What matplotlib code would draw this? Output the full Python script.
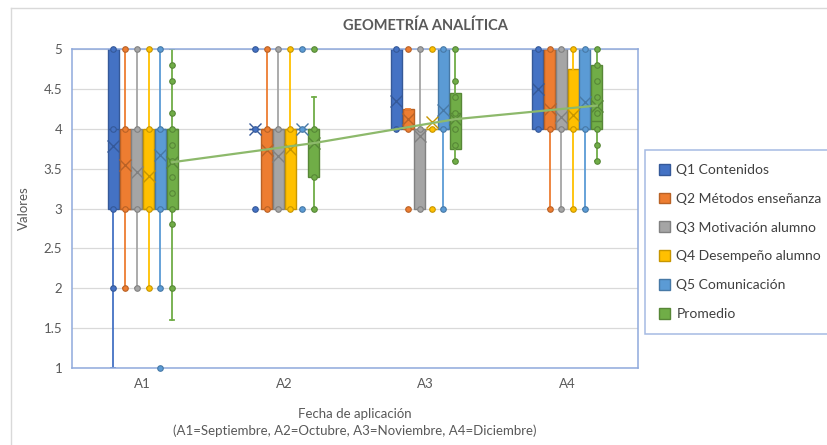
import matplotlib
matplotlib.use("Agg")
import matplotlib.pyplot as plt
import matplotlib.colors as mcolors
from matplotlib.patches import Patch
from matplotlib.lines import Line2D

plt.rcParams['font.family'] = ['Lato', 'DejaVu Sans']

groups = ["A1", "A2", "A3", "A4"]
series = ["Q1 Contenidos", "Q2 Métodos enseñanza", "Q3 Motivación alumno",
          "Q4 Desempeño alumno", "Q5 Comunicación", "Promedio"]
colors = ["#4472C4", "#ED7D31", "#A5A5A5", "#FFC000", "#5B9BD5", "#70AD47"]

# one row per series, one column per group (A1..A4)
q_low = [[3, 4, 4, 4], [3, 3, 4, 4], [3, 3, 3, 4],
         [3, 3, 4, 4], [3, 4, 4, 4], [3, 3.4, 3.75, 4]]
q_high = [[5, 4, 5, 5], [4, 4, 4.25, 5], [4, 4, 4, 5],
          [4, 4, 4, 4.75], [4, 4, 5, 5], [4, 4, 4.45, 4.8]]
medians = [[4, 4, 5, 5], [3, 4, 4, 5], [3, 4, 4, 4],
           [3, 4, 4, 4], [4, 4, 4, 4], [4, 4, 4.2, 4.1]]
whisk_lo = [[1, 4, 4, 4], [2, 3, 4, 3], [2, 3, 3, 3],
            [2, 3, 4, 3], [2, 4, 3, 3], [1.6, 3, 3.6, 3.6]]
whisk_hi = [[5, 4, 5, 5], [5, 5, 4.25, 5], [5, 5, 5, 5],
            [5, 5, 4, 5], [5, 4, 5, 5], [5, 4.4, 5, 5]]
means = [[3.78, 4.0, 4.35, 4.5], [3.54, 3.73, 4.12, 4.25], [3.46, 3.66, 3.91, 4.15],
         [3.41, 3.74, 4.08, 4.17], [3.67, 4.0, 4.24, 4.34], [3.58, 3.82, 4.12, 4.29]]
points = [
    [[5, 4, 3, 2], [5, 4, 3], [5, 4], [5, 4]],
    [[5, 4, 3, 2], [5, 4, 3], [5, 4, 3], [5, 4, 3]],
    [[5, 4, 3, 2], [5, 4, 3], [5, 4, 3], [5, 4, 3]],
    [[5, 4, 3, 2], [5, 4, 3], [5, 4, 3], [5, 4, 3]],
    [[5, 4, 3, 2, 1], [5, 4, 3], [5, 4, 3], [5, 4, 3]],
    [[4.8, 4.6, 4.2, 4.0, 3.8, 3.6, 3.4, 3.2, 3.0, 2.8, 2.0], [5, 4.0, 3.4, 3.0],
     [5, 4.6, 4.4, 4.2, 4.0, 3.8, 3.6], [5, 4.8, 4.6, 4.4, 4.2, 4.0, 3.8, 3.6]],
]


def darker(c, f=0.78):
    r, g, b = mcolors.to_rgb(c)
    return (r * f, g * f, b * f)


fig = plt.figure(figsize=(8.27, 4.45), dpi=100)
ax = fig.add_axes([72 / 827, 1 - 368 / 445, 566 / 827, 319 / 445])

step = 0.0834
width = 0.078
for i, name in enumerate(series):
    col = colors[i]
    edge = darker(col)
    pos = [g + (i - 2.5) * step for g in range(len(groups))]
    stats = []
    for g in range(len(groups)):
        stats.append(dict(med=medians[i][g], q1=q_low[i][g], q3=q_high[i][g],
                          whislo=whisk_lo[i][g], whishi=whisk_hi[i][g],
                          mean=means[i][g], fliers=[]))
    ax.bxp(stats, positions=pos, widths=width, patch_artist=True, showmeans=True,
           showfliers=False, capwidths=0.025,
           boxprops=dict(facecolor=col, edgecolor=edge, linewidth=1),
           medianprops=dict(color=edge, linewidth=1),
           whiskerprops=dict(color=col, linewidth=1.3),
           capprops=dict(color=col, linewidth=1.3),
           meanprops=dict(marker='x', markeredgecolor=edge, markersize=9, markeredgewidth=1))
    for g in range(len(groups)):
        ys = points[i][g]
        ax.scatter([pos[g]] * len(ys), ys, s=16, facecolor=col, edgecolor=edge,
                   linewidth=0.8, zorder=4, clip_on=False)

# trend line through the means of Promedio
prom_pos = [g + 2.5 * step for g in range(len(groups))]
ax.plot(prom_pos, means[5], color="#8DB96B", linewidth=1.6, zorder=5)

ax.set_xlim(-0.5, 3.5)
ax.set_ylim(1, 5)
ax.set_yticks([1, 1.5, 2, 2.5, 3, 3.5, 4, 4.5, 5])
ax.set_yticklabels(["1", "1.5", "2", "2.5", "3", "3.5", "4", "4.5", "5"])
ax.set_xticks(range(len(groups)))
ax.set_xticklabels(groups)
ax.tick_params(length=0, labelsize=9.5, labelcolor="#595959", pad=7)
ax.grid(axis='y', color="#D9D9D9", linewidth=0.9)
ax.set_axisbelow(True)
for sp in ax.spines.values():
    sp.set_color("#8FAADC")
    sp.set_linewidth(1.1)

ax.set_ylabel("Valores", fontsize=9.5, color="#595959", labelpad=10)
ax.set_xlabel("Fecha de aplicación\n(A1=Septiembre, A2=Octubre, A3=Noviembre, A4=Diciembre)",
              fontsize=9.5, color="#595959", labelpad=13, linespacing=1.4)
fig.text(0.514, 1 - 26 / 445, "GEOMETRÍA ANALÍTICA", ha='center', va='center',
         fontsize=10.5, fontweight='bold', color="#595959")

handles = [Patch(facecolor=c, edgecolor=darker(c)) for c in colors]
leg = fig.legend(handles, series, loc='upper left', bbox_to_anchor=(645 / 827, 1 - 150 / 445),
                 fontsize=10, frameon=True, fancybox=False, handlelength=0.8,
                 handleheight=0.8, handletextpad=0.45, labelspacing=1.2, borderpad=1.0,
                 borderaxespad=0)
leg.get_frame().set_edgecolor("#8FAADC")
leg.get_frame().set_linewidth(1.1)
for t in leg.get_texts():
    t.set_color("#404040")

# outer chart frame
fig.add_artist(Line2D([11 / 827, 1], [1 - 8 / 445] * 2, color="#D9D9D9", linewidth=1))
fig.add_artist(Line2D([11 / 827] * 2, [0, 1 - 8 / 445], color="#D9D9D9", linewidth=1))

fig.savefig("out.png", dpi=100)
